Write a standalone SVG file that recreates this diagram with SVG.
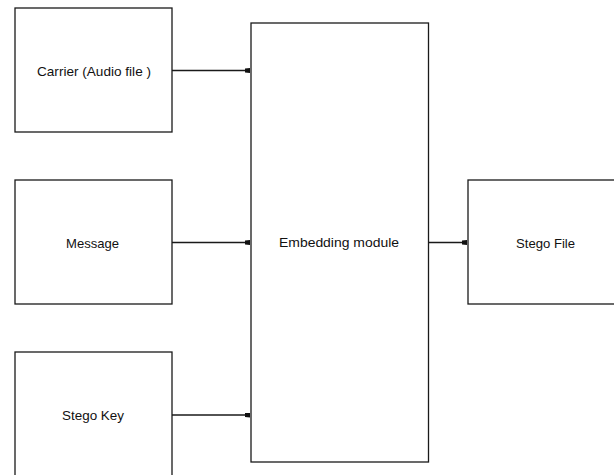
<svg xmlns="http://www.w3.org/2000/svg" width="614" height="475" viewBox="0 0 614 475">
  <style>
    .box { fill: #ffffff; stroke: #1a1a1a; stroke-width: 1.3; }
    .lbl { font-family: "Liberation Sans", Arial, sans-serif; font-size: 13px; fill: #111111; text-anchor: middle; dominant-baseline: central; }
    .edge { stroke: #1a1a1a; stroke-width: 1.5; fill: none; marker-end: url(#tip); }
  </style>
  <defs>
    <marker id="tip" viewBox="0 0 6 6" refX="6" refY="3" markerWidth="5" markerHeight="5" markerUnits="userSpaceOnUse" orient="auto">
      <path d="M0,0.5 L6,0 L6,6 L0,5.5 Z" fill="#111111"/>
    </marker>
  </defs>
  <rect width="614" height="475" fill="#ffffff"/>

  <g id="connectors">
    <line class="edge" x1="172" y1="70.5" x2="250" y2="70.5"/>
    <line class="edge" x1="172" y1="242.5" x2="250" y2="242.5"/>
    <line class="edge" x1="172" y1="415" x2="250" y2="415"/>
    <line class="edge" x1="428.5" y1="242.5" x2="467" y2="242.5"/>
  </g>

  <g id="carrier">
    <rect class="box" x="15" y="8" width="157" height="124"/>
    <text class="lbl" x="94" y="71" textLength="114" lengthAdjust="spacingAndGlyphs">Carrier (Audio file )</text>
  </g>
  <g id="message">
    <rect class="box" x="15" y="180" width="157" height="124"/>
    <text class="lbl" x="92.5" y="243" textLength="53" lengthAdjust="spacingAndGlyphs">Message</text>
  </g>
  <g id="stego-key">
    <rect class="box" x="15" y="352" width="157" height="130"/>
    <text class="lbl" x="93" y="415" textLength="62" lengthAdjust="spacingAndGlyphs">Stego Key</text>
  </g>
  <g id="embedding">
    <rect class="box" x="251" y="23" width="177.5" height="439"/>
    <text class="lbl" x="339" y="242" textLength="120" lengthAdjust="spacingAndGlyphs">Embedding module</text>
  </g>
  <g id="stego-file">
    <rect class="box" x="468" y="180" width="160" height="124"/>
    <text class="lbl" x="545.5" y="243" textLength="59" lengthAdjust="spacingAndGlyphs">Stego File</text>
  </g>
</svg>
